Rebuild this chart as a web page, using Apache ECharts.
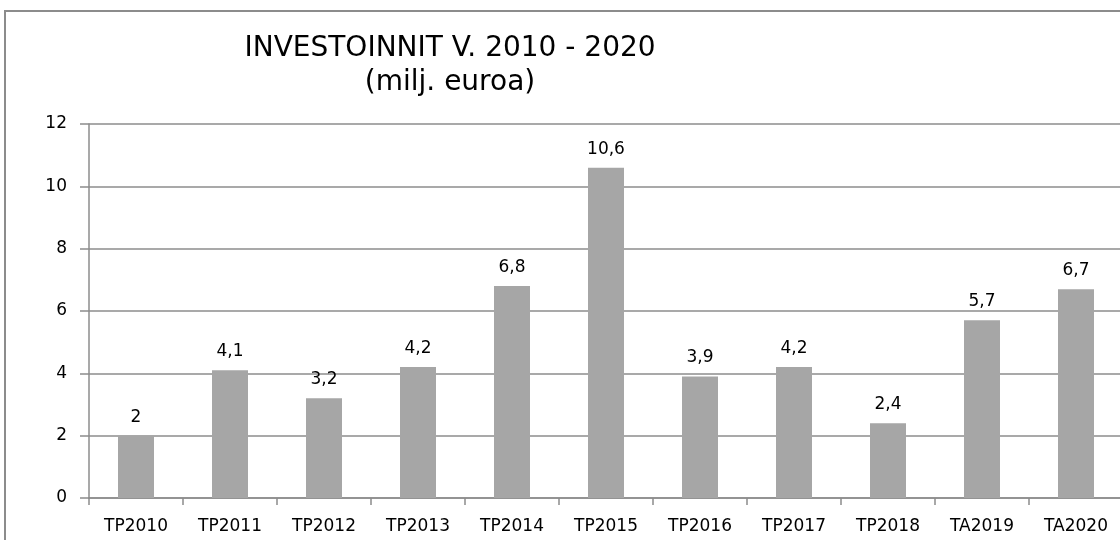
<!DOCTYPE html>
<html>
<head>
<meta charset="utf-8">
<script src="https://cdn.jsdelivr.net/npm/echarts@6/dist/echarts.min.js"></script>
<style>
html, body { margin: 0; padding: 0; background: #fff; overflow: hidden; }
#main { position: absolute; left: 0; top: 0; width: 1130px; height: 540px; }
</style>
</head>
<body>
<div id="main"></div>
<script>
var categories = ['TP2010', 'TP2011', 'TP2012', 'TP2013', 'TP2014', 'TP2015', 'TP2016', 'TP2017', 'TP2018', 'TA2019', 'TA2020'];
var investments = [2, 4.1, 3.2, 4.2, 6.8, 10.6, 3.9, 4.2, 2.4, 5.7, 6.7];

var font = 'DejaVu Sans';
var option = {
	animation: false,
	title: {
		text: 'INVESTOINNIT V. 2010 - 2020\n(milj. euroa)',
		left: 445,
		top: 27,
		textAlign: 'center',
		textStyle: {
			fontFamily: font,
			fontSize: 28,
			fontWeight: 'normal',
			color: '#000',
			lineHeight: 34
		}
	},
	graphic: [{
		type: 'rect',
		shape: { x: 5, y: 11, width: 1200, height: 600 },
		style: { fill: 'none', stroke: '#8c8c8c', lineWidth: 2 }
	}],
	grid: {
		left: 89,
		top: 124,
		width: 1034,
		height: 374,
		containLabel: false
	},
	xAxis: {
		type: 'category',
		data: categories,
		axisLine: { lineStyle: { color: '#8c8c8c', width: 1.5 } },
		axisTick: { show: true, length: 7, lineStyle: { color: '#8c8c8c', width: 1.5 } },
		axisLabel: { fontFamily: font, fontSize: 17, color: '#000', margin: 20 }
	},
	yAxis: {
		type: 'value',
		min: 0,
		max: 12,
		interval: 2,
		axisLine: { show: true, lineStyle: { color: '#8c8c8c', width: 1.5 } },
		axisTick: { show: true, length: 9, lineStyle: { color: '#8c8c8c', width: 1.5 } },
		axisLabel: { fontFamily: font, fontSize: 17, color: '#000', margin: 22, padding: [4, 0, 0, 0] },
		splitLine: { lineStyle: { color: '#8c8c8c', width: 1.5 } }
	},
	series: [{
		type: 'bar',
		data: investments,
		barWidth: 36,
		itemStyle: { color: '#a6a6a6' },
		label: {
			show: true,
			position: 'top',
			distance: 10,
			fontFamily: font,
			fontSize: 17,
			color: '#000',
			formatter: function (p) { return String(p.value).replace('.', ','); }
		}
	}]
};
var myChart = echarts.init(document.getElementById('main'));
myChart.setOption(option);
</script>
</body>
</html>
